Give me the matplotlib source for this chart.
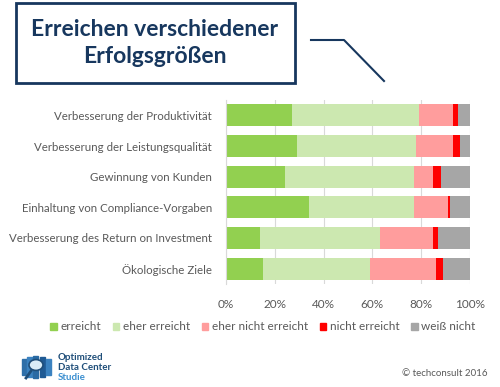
import numpy as np
import matplotlib
matplotlib.use("Agg")
import matplotlib.pyplot as plt
from matplotlib.patches import Rectangle, Circle
from matplotlib.lines import Line2D

plt.rcParams['font.family'] = ['Lato', 'DejaVu Sans']

# Data (percent), top row first
categories = [
    "Verbesserung der Produktivität",
    "Verbesserung der Leistungsqualität",
    "Gewinnung von Kunden",
    "Einhaltung von Compliance-Vorgaben",
    "Verbesserung des Return on Investment",
    "Ökologische Ziele",
]
erreicht = [27, 29, 24, 34, 14, 15]
eher_erreicht = [52, 49, 53, 43, 49, 44]
eher_nicht = [14, 15, 8, 14, 22, 27]
nicht_erreicht = [2, 3, 3, 1, 2, 3]
weiss_nicht = [5, 4, 12, 8, 13, 11]

series = [erreicht, eher_erreicht, eher_nicht, nicht_erreicht, weiss_nicht]
series_names = ["erreicht", "eher erreicht", "eher nicht erreicht", "nicht erreicht", "weiß nicht"]
colors = ["#92d050", "#cce8b0", "#ff9d9d", "#ff0000", "#a6a6a6"]
xticks = [0, 20, 40, 60, 80, 100]

text_col = "#595959"
navy = "#17375e"

fig = plt.figure(figsize=(5, 3.87), dpi=100)
ax = fig.add_axes([0.452, 1 - 284 / 387, 0.488, 184 / 387])

y = np.arange(len(categories))
left = np.zeros(len(categories))
for vals, col, name in zip(series, colors, series_names):
    ax.barh(y, vals, left=left, height=0.72, color=col, label=name, zorder=2)
    left += np.array(vals)

ax.set_xlim(0, 100)
ax.set_ylim(len(categories) - 0.5, -0.5)
ax.set_yticks(y)
ax.set_yticklabels(categories, fontsize=8.3, color=text_col)
ax.set_xticks(xticks)
ax.set_xticklabels([f"{v}%" for v in xticks], fontsize=8.5, color=text_col)
ax.tick_params(axis="y", length=0, pad=10)
ax.tick_params(axis="x", length=0, pad=11)
ax.grid(axis="x", color="#d9d9d9", linewidth=0.8, zorder=0)
for s in ["top", "right", "bottom"]:
    ax.spines[s].set_visible(False)
ax.spines["left"].set_color("#d9d9d9")

# legend
handles = [Rectangle((0, 0), 1, 1, color=c) for c in colors]
fig.legend(handles, series_names, loc="center", bbox_to_anchor=(0.526, 1 - 327 / 387),
           ncol=5, frameon=False, fontsize=8.5, handlelength=0.55, handleheight=0.55,
           handletextpad=0.3, columnspacing=1.0, labelcolor=text_col)

# title box
fig.patches.append(Rectangle((16 / 500, 1 - 83 / 387), 279 / 500, 80 / 387,
                             transform=fig.transFigure, fill=False,
                             edgecolor=navy, linewidth=2))
fig.text(155 / 500, 1 - 43 / 387, "Erreichen verschiedener\nErfolgsgrößen",
         ha="center", va="center", fontsize=16.5, fontweight="bold", color=navy,
         linespacing=1.3)
fig.lines.append(Line2D([311 / 500, 344 / 500, 384 / 500],
                        [1 - 40 / 387, 1 - 40 / 387, 1 - 81 / 387],
                        transform=fig.transFigure, color=navy, linewidth=1.5))

# logo
for x0, h, c in [(22, 16, "#2f6fa8"), (27, 20, "#3b82c0"), (33, 22, "#2a6aa3"),
                 (40, 20, "#1f5a94"), (46, 16, "#3b82c0")]:
    fig.patches.append(Rectangle((x0 / 500, 1 - (367 + h / 2) / 387), 5 / 500, h / 387,
                                 transform=fig.transFigure, color=c))
fig.patches.append(Circle((36 / 500, 1 - 365 / 387), 7 / 500,
                          transform=fig.transFigure, facecolor="#d9ecf7",
                          edgecolor="#1f4e79", linewidth=1.2))
fig.lines.append(Line2D([31 / 500, 26 / 500], [1 - 371 / 387, 1 - 378 / 387],
                        transform=fig.transFigure, color="#1f4e79", linewidth=2))
fig.text(58 / 500, 1 - 357 / 387, "Optimized", fontsize=7, color="#1f4e79",
         va="center", fontweight="bold")
fig.text(58 / 500, 1 - 367 / 387, "Data Center", fontsize=7, color="#1f4e79",
         va="center", fontweight="bold")
fig.text(58 / 500, 1 - 377 / 387, "Studie", fontsize=7, color="#3b8fd0",
         va="center", fontweight="bold")

fig.text(488 / 500, 1 - 373 / 387, "© techconsult 2016", fontsize=7, color=text_col,
         ha="right", va="center")

fig.savefig("out.png", dpi=100)
